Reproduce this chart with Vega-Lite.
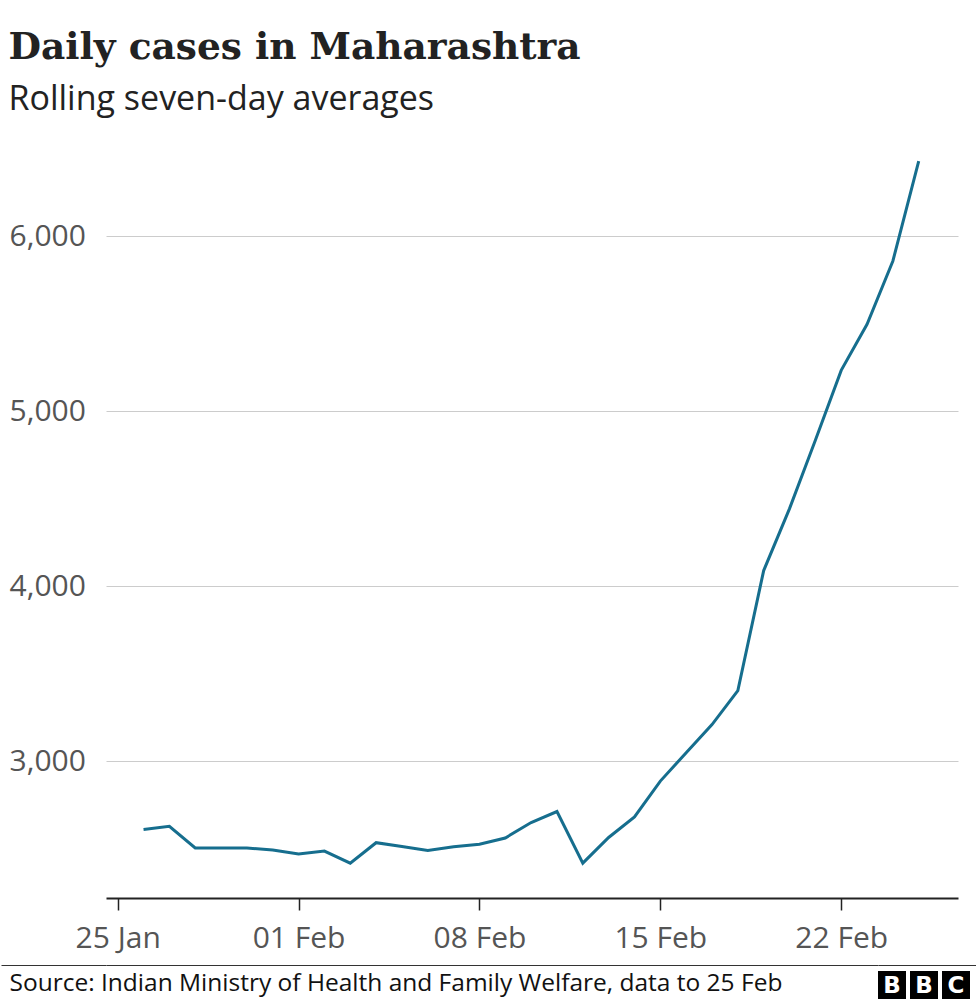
{
  "$schema": "https://vega.github.io/schema/vega-lite/v6.json",
  "background": "white",
  "autosize": {"type": "pad"},
  "padding": {"left": 0, "top": 29, "right": 0, "bottom": 0},
  "title": {
    "text": "Daily cases in Maharashtra",
    "subtitle": "Rolling seven-day averages",
    "anchor": "start",
    "frame": "bounds",
    "dx": 8,
    "font": "DejaVu Serif",
    "fontSize": 37.5,
    "fontWeight": "bold",
    "color": "#222222",
    "subtitleFont": "Open Sans",
    "subtitleFontSize": 34,
    "subtitleColor": "#222222",
    "subtitlePadding": 16.5,
    "offset": 32
  },
  "config": {
    "view": {"stroke": null},
    "font": "Open Sans"
  },
  "spacing": 11,
  "vconcat": [
    {
      "width": 852,
      "height": 749,
      "data": {
        "values": [
          {"date": "2021-01-26", "cases": 2611},
          {"date": "2021-01-27", "cases": 2629},
          {"date": "2021-01-28", "cases": 2505},
          {"date": "2021-01-29", "cases": 2505},
          {"date": "2021-01-30", "cases": 2505},
          {"date": "2021-01-31", "cases": 2493},
          {"date": "2021-02-01", "cases": 2470},
          {"date": "2021-02-02", "cases": 2487},
          {"date": "2021-02-03", "cases": 2418},
          {"date": "2021-02-04", "cases": 2535},
          {"date": "2021-02-05", "cases": 2513},
          {"date": "2021-02-06", "cases": 2491},
          {"date": "2021-02-07", "cases": 2512},
          {"date": "2021-02-08", "cases": 2526},
          {"date": "2021-02-09", "cases": 2562},
          {"date": "2021-02-10", "cases": 2650},
          {"date": "2021-02-11", "cases": 2713},
          {"date": "2021-02-12", "cases": 2418},
          {"date": "2021-02-13", "cases": 2565},
          {"date": "2021-02-14", "cases": 2682},
          {"date": "2021-02-15", "cases": 2887},
          {"date": "2021-02-16", "cases": 3049},
          {"date": "2021-02-17", "cases": 3210},
          {"date": "2021-02-18", "cases": 3404},
          {"date": "2021-02-19", "cases": 4090},
          {"date": "2021-02-20", "cases": 4444},
          {"date": "2021-02-21", "cases": 4835},
          {"date": "2021-02-22", "cases": 5234},
          {"date": "2021-02-23", "cases": 5497},
          {"date": "2021-02-24", "cases": 5859},
          {"date": "2021-02-25", "cases": 6430}
        ]
      },
      "mark": {"type": "line", "color": "#166e8e", "strokeWidth": 3, "strokeJoin": "miter"},
      "encoding": {
        "x": {
          "field": "date",
          "type": "temporal",
          "scale": {
            "type": "utc",
            "domain": [
              {"year": 2021, "month": 1, "date": 24, "hours": 13, "minutes": 8, "utc": true},
              {"year": 2021, "month": 2, "date": 26, "hours": 12, "minutes": 29, "utc": true}
            ]
          },
          "axis": {
            "title": null,
            "grid": false,
            "values": [
              {"year": 2021, "month": 1, "date": 25, "utc": true},
              {"year": 2021, "month": 2, "date": 1, "utc": true},
              {"year": 2021, "month": 2, "date": 8, "utc": true},
              {"year": 2021, "month": 2, "date": 15, "utc": true},
              {"year": 2021, "month": 2, "date": 22, "utc": true}
            ],
            "labelExpr": "utcFormat(datum.value, '%d %b')",
            "domainColor": "#222222",
            "domainWidth": 2,
            "tickColor": "#222222",
            "tickWidth": 1.5,
            "tickSize": 12,
            "labelPadding": 13,
            "labelFont": "Open Sans",
            "labelFontSize": 30,
            "labelColor": "#555555"
          }
        },
        "y": {
          "field": "cases",
          "type": "quantitative",
          "scale": {"domain": [2219, 6499], "nice": false, "zero": false},
          "axis": {
            "title": null,
            "values": [3000, 4000, 5000, 6000],
            "labelExpr": "format(datum.value, ',')",
            "grid": true,
            "gridColor": "#cccccc",
            "gridWidth": 1,
            "domain": false,
            "ticks": false,
            "tickSize": 0,
            "labelAlign": "left",
            "labelPadding": 97,
            "labelFont": "Open Sans",
            "labelFontSize": 30,
            "labelColor": "#555555"
          }
        }
      }
    },
    {
      "spacing": 0,
      "hconcat": [
        {
          "width": 772,
          "height": 28,
          "data": {"values": [{"t": "Source: Indian Ministry of Health and Family Welfare, data to 25 Feb"}]},
          "mark": {"type": "point", "opacity": 0},
          "encoding": {
            "x": {
              "datum": 0,
              "type": "quantitative",
              "scale": {"domain": [0, 1], "nice": false, "zero": false},
              "axis": {"orient": "top", "offset": 6, "domain": true, "domainColor": "#333333", "domainWidth": 1, "ticks": false, "labels": false, "grid": false, "title": null}
            },
            "y": {
              "field": "t",
              "type": "nominal",
              "scale": {"paddingInner": 0, "paddingOuter": 0},
              "axis": {
                "orient": "left",
                "title": null,
                "domain": false,
                "grid": false,
                "ticks": true,
                "tickSize": 105,
                "tickColor": "#333333",
                "tickWidth": 1,
                "tickOffset": -20,
                "labelOffset": 18,
                "labelAlign": "left",
                "labelBaseline": "middle",
                "labelPadding": -8,
                "labelFont": "Open Sans",
                "labelFontSize": 24.5,
                "labelColor": "#111111",
                "labelLimit": 0
              }
            }
          }
        },
        {
          "width": 99,
          "height": 28,
          "data": {"values": [{"i": 1, "l": "B"}, {"i": 2, "l": "B"}, {"i": 3, "l": "C"}]},
          "encoding": {
            "x": {
              "field": "i",
              "type": "nominal",
              "scale": {"paddingInner": 0.125, "paddingOuter": 0.109, "align": 0},
              "axis": {"orient": "top", "offset": 6, "domain": true, "domainColor": "#333333", "domainWidth": 1, "ticks": false, "labels": false, "grid": false, "title": null}
            }
          },
          "layer": [
            {"mark": {"type": "bar", "color": "#000000"}},
            {
              "mark": {"type": "text", "color": "#ffffff", "font": "DejaVu Sans", "fontWeight": "bold", "fontSize": 23, "baseline": "middle", "dy": 1},
              "encoding": {"text": {"field": "l"}}
            }
          ]
        }
      ]
    }
  ]
}
